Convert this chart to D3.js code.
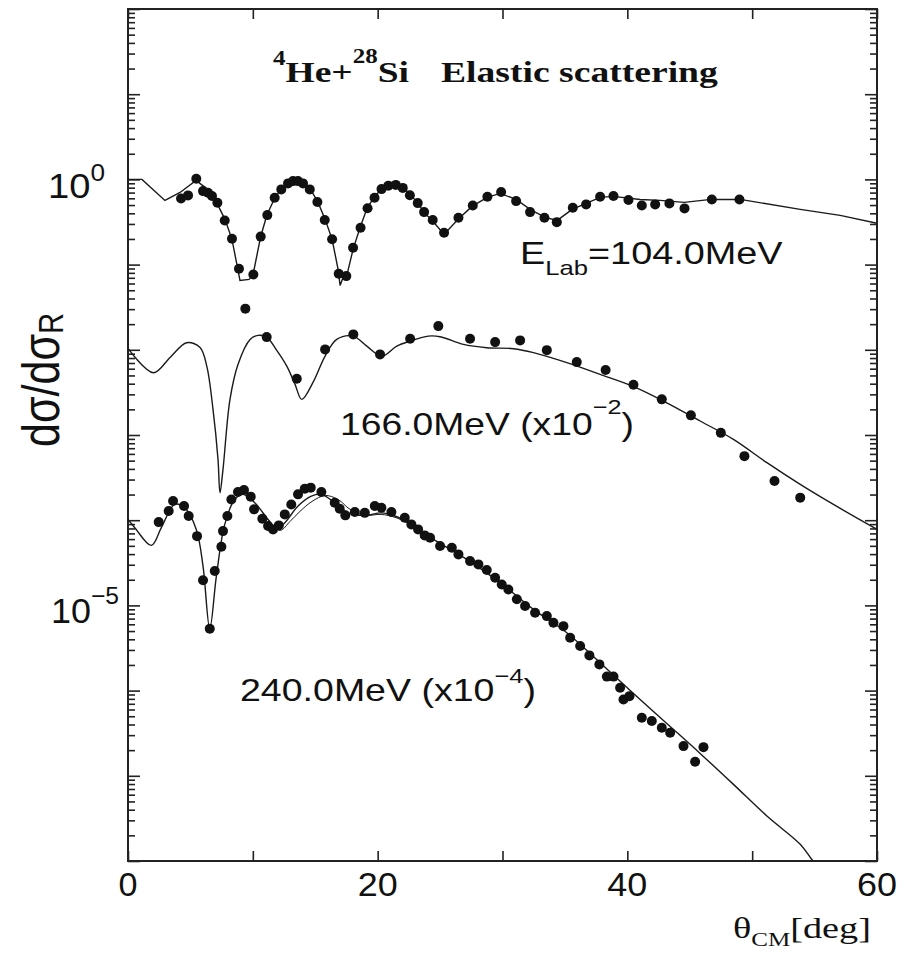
<!DOCTYPE html>
<html><head><meta charset="utf-8">
<script src="https://cdn.jsdelivr.net/npm/d3@7"></script>
<style>body{margin:0;background:#fff;} svg{display:block}</style>
</head><body>
<svg id="chart" width="911" height="959"></svg>
<script>
// ---------------- data (theta_CM [deg], dσ/dσR as plotted) ----------------
const exp104 = [[4.25,0.598],[4.81,0.649],[5.47,1.02],[6.01,0.729],[6.41,0.698],[6.73,0.637],[7.16,0.533],[7.75,0.330],[8.33,0.201],[8.89,0.0895],[9.40,0.0304],[10.04,0.0767],[10.63,0.213],[11.16,0.381],[11.75,0.610],[12.28,0.763],[12.82,0.898],[13.22,0.955],[13.62,0.955],[14.02,0.898],[14.56,0.763],[15.17,0.542],[15.76,0.333],[16.35,0.198],[16.88,0.0782],[17.49,0.0733],[18.03,0.158],[18.63,0.271],[19.19,0.459],[19.75,0.610],[20.31,0.769],[20.85,0.843],[21.45,0.862],[22.01,0.795],[22.58,0.653],[23.21,0.527],[23.72,0.413],[24.41,0.333],[25.32,0.237],[26.47,0.355],[27.62,0.495],[28.79,0.627],[29.89,0.710],[31.09,0.556],[32.21,0.413],[33.36,0.355],[34.35,0.315],[35.63,0.465],[36.70,0.509],[37.82,0.627],[38.89,0.637],[40.09,0.572],[41.16,0.495],[42.23,0.509],[43.37,0.523],[44.58,0.457],[46.77,0.582],[48.98,0.582]];

const fit104 = [[0,1.0],[1.12,1.0],[2.96,0.567],[4.17,0.703],[5.45,0.973],[6.17,0.806],[6.97,0.582],[7.77,0.340],[8.33,0.198],[8.97,0.0653],[9.70,0.0670],[10.02,0.0767],[10.63,0.214],[11.14,0.388],[11.78,0.615],[12.34,0.784],[12.98,0.922],[13.46,0.973],[13.94,0.947],[14.58,0.784],[15.22,0.537],[15.79,0.340],[16.35,0.198],[16.83,0.0878],[16.99,0.0570],[17.23,0.0707],[17.55,0.0767],[18.03,0.151],[18.59,0.273],[19.15,0.457],[19.71,0.615],[20.27,0.763],[20.83,0.851],[21.39,0.874],[21.96,0.828],[22.60,0.667],[23.24,0.523],[23.72,0.410],[24.44,0.321],[25.32,0.226],[26.44,0.340],[27.56,0.482],[28.77,0.615],[29.81,0.685],[31.09,0.582],[32.21,0.445],[33.41,0.358],[34.38,0.330],[35.58,0.445],[36.70,0.523],[37.82,0.615],[38.86,0.632],[41.03,0.582],[42.63,0.567],[44.55,0.537],[46.71,0.582],[49.04,0.582],[53.85,0.445],[57.05,0.378],[60.0,0.305]];

const exp166 = [[11.11,0.01409],[13.52,0.00458],[15.79,0.01011],[18.05,0.01517],[20.19,0.00883],[22.60,0.01349],[24.86,0.01897],[27.40,0.01349],[29.41,0.01231],[31.41,0.01289],[33.55,0.00991],[35.95,0.00717],[38.26,0.00578],[40.49,0.00389],[42.76,0.00262],[45.09,0.00170],[47.49,0.00106],[49.38,0.000565],[51.79,0.000288],[53.85,0.000184]];

const fit166 = [[0,0.01038],[2.03,0.00538],[3.37,0.00814],[4.70,0.01211],[5.77,0.01067],[6.31,0.00644],[6.81,0.00200],[7.21,0.000517],[7.37,0.000210],[7.61,0.000395],[8.17,0.00262],[8.81,0.00674],[9.78,0.01324],[10.42,0.01476],[11.11,0.01409],[11.86,0.01011],[12.72,0.00644],[13.38,0.00393],[13.92,0.00262],[14.82,0.00414],[15.79,0.00844],[16.72,0.01324],[18.03,0.01449],[19.13,0.01105],[20.33,0.00844],[21.53,0.01105],[22.60,0.01265],[24.06,0.01449],[25.00,0.01425],[26.87,0.01157],[28.74,0.01059],[30.87,0.01030],[32.48,0.00925],[35.15,0.00706],[37.82,0.00514],[40.46,0.00372],[43.16,0.00239],[45.83,0.00146],[48.50,0.000888],[51.18,0.000473],[53.85,0.000263],[56.51,0.000153],[60.0,0.0000780]];

const exp240 = [[2.46,9.50e-5],[3.26,1.28e-4],[3.61,1.68e-4],[4.49,1.47e-4],[4.86,1.12e-4],[5.53,6.50e-5],[6.01,1.97e-5],[6.55,5.33e-6],[6.95,2.53e-5],[7.48,4.89e-5],[7.61,7.45e-5],[7.96,1.12e-4],[8.28,1.75e-4],[8.81,2.14e-4],[9.29,2.26e-4],[9.83,1.89e-4],[10.10,1.34e-4],[10.76,1.04e-4],[11.22,8.53e-5],[11.62,7.80e-5],[12.08,8.69e-5],[12.56,1.17e-4],[13.08,1.53e-4],[13.62,2.01e-4],[14.16,2.34e-4],[14.64,2.41e-4],[15.49,2.14e-4],[16.56,1.60e-4],[16.96,1.36e-4],[17.41,1.14e-4],[18.17,1.25e-4],[18.97,1.22e-4],[19.77,1.47e-4],[20.30,1.40e-4],[21.10,1.25e-4],[22.17,1.07e-4],[22.70,8.93e-5],[23.24,7.80e-5],[23.77,6.63e-5],[24.20,6.23e-5],[25.00,4.97e-5],[25.94,4.75e-5],[26.47,3.97e-5],[27.40,3.31e-5],[28.07,3.03e-5],[28.74,2.60e-5],[29.41,2.11e-5],[29.94,1.76e-5],[30.47,1.54e-5],[31.15,1.18e-5],[31.81,9.82e-6],[32.61,8.21e-6],[33.55,7.49e-6],[34.08,6.26e-6],[34.88,5.71e-6],[35.42,4.18e-6],[36.22,3.33e-6],[36.96,2.59e-6],[37.76,2.03e-6],[38.36,1.46e-6],[38.89,1.46e-6],[39.42,1.08e-6],[39.69,7.88e-7],[40.17,8.61e-7],[41.16,4.81e-7],[41.96,4.39e-7],[42.76,3.67e-7],[43.43,3.21e-7],[44.50,2.23e-7],[45.43,1.46e-7],[46.10,2.17e-7]];

const fit240 = [[0,1.02e-4],[0.54,8.17e-5],[1.87,5.06e-5],[2.67,8.17e-5],[3.74,1.53e-4],[4.54,1.40e-4],[5.47,7.80e-5],[6.01,2.89e-5],[6.55,5.33e-6],[7.08,2.21e-5],[7.75,8.93e-5],[8.55,1.75e-4],[9.21,2.01e-4],[10.15,1.60e-4],[11.22,1.02e-4],[11.88,7.95e-5],[12.56,9.35e-5],[13.62,1.47e-4],[14.69,1.92e-4],[15.49,2.01e-4],[16.56,1.60e-4],[17.63,1.22e-4],[18.97,1.14e-4],[20.30,1.22e-4],[21.37,1.12e-4],[22.44,9.35e-5],[24.04,6.50e-5],[27.14,3.47e-5],[29.81,1.85e-5],[32.48,8.97e-6],[35.15,4.78e-6],[37.82,2.12e-6],[40.49,9.27e-7],[43.16,4.12e-7],[45.83,1.83e-7],[48.50,7.93e-8],[51.18,3.37e-8],[53.85,1.57e-8],[54.78,1.04e-8],[55.45,7.97e-9]];

const fit240b = [[11.22,1.02e-4],[12.18,7.59e-5],[12.98,9.68e-5],[13.78,1.27e-4],[14.74,1.66e-4],[15.79,1.95e-4],[16.83,1.75e-4],[17.79,1.34e-4],[18.97,1.14e-4],[20.27,1.17e-4],[21.39,1.08e-4],[22.44,9.17e-5],[24.04,6.50e-5]];

const xTickVals = [0,10,20,30,40,50,60];
const xTickLabels = ["0","20","40","60"];
const yLabelExps = ["0","−5"];

// ---------------- drawing ----------------
const svg = d3.select('#chart');
const SANS = 'Liberation Sans, Arial, Helvetica, sans-serif';
const SERIF = 'Liberation Serif, Times New Roman, serif';
const INK = '#111';

const x = d3.scaleLinear().domain([0,60]).range([128,877]);
const y = d3.scaleLog().domain([1e-8,1e2]).range([861,9]);

svg.append('defs').append('clipPath').attr('id','plotclip')
  .append('rect').attr('x',x(0)).attr('y',y(1e2)).attr('width',x(60)-x(0)).attr('height',y(1e-8)-y(1e2));

// ticks
const decades = d3.range(-8,3).map(k => Math.pow(10,k));
const minors = [];
d3.range(-8,2).forEach(k => { for (let m=2;m<=9;m++) minors.push(m*Math.pow(10,k)); });

function styleAxis(g){ g.select('.domain').remove(); g.selectAll('line').attr('stroke','#222').attr('stroke-width',1.6); g.selectAll('text').remove(); }

svg.append('g').attr('transform',`translate(${x(0)},0)`).call(d3.axisLeft(y).tickValues(decades).tickSize(-12).tickFormat('')).call(styleAxis);
svg.append('g').attr('transform',`translate(${x(0)},0)`).call(d3.axisLeft(y).tickValues(minors).tickSize(-7).tickFormat('')).call(styleAxis);
svg.append('g').attr('transform',`translate(${x(60)},0)`).call(d3.axisRight(y).tickValues(decades).tickSize(-12).tickFormat('')).call(styleAxis);
svg.append('g').attr('transform',`translate(${x(60)},0)`).call(d3.axisRight(y).tickValues(minors).tickSize(-7).tickFormat('')).call(styleAxis);
svg.append('g').attr('transform',`translate(0,${y(1e-8)})`).call(d3.axisBottom(x).tickValues(xTickVals).tickSize(-10).tickFormat('')).call(styleAxis);
svg.append('g').attr('transform',`translate(0,${y(1e2)})`).call(d3.axisTop(x).tickValues(xTickVals).tickSize(-10).tickFormat('')).call(styleAxis);

// frame
svg.append('rect').attr('x',x(0)).attr('y',y(1e2)).attr('width',x(60)-x(0)).attr('height',y(1e-8)-y(1e2))
  .attr('fill','none').attr('stroke','#222').attr('stroke-width',2);

// curves
const plot = svg.append('g').attr('clip-path','url(#plotclip)');
const lineLin = d3.line().x(d=>x(d[0])).y(d=>y(d[1]));
const lineSmooth = d3.line().x(d=>x(d[0])).y(d=>y(d[1])).curve(d3.curveCatmullRom.alpha(0.5));
plot.append('path').datum(fit104).attr('d',lineLin).attr('fill','none').attr('stroke','#1a1a1a').attr('stroke-width',1.4);
plot.append('path').datum(fit166).attr('d',lineSmooth).attr('fill','none').attr('stroke','#1a1a1a').attr('stroke-width',1.4);
plot.append('path').datum(fit240).attr('d',lineSmooth).attr('fill','none').attr('stroke','#1a1a1a').attr('stroke-width',1.4);
plot.append('path').datum(fit240b).attr('d',lineSmooth).attr('fill','none').attr('stroke','#1a1a1a').attr('stroke-width',1.0);

// points
[exp104, exp166, exp240].forEach(ds => {
  plot.append('g').selectAll('circle').data(ds).join('circle')
    .attr('cx',d=>x(d[0])).attr('cy',d=>y(d[1])).attr('r',5).attr('fill',INK);
});

// ---------------- text helper ----------------
function label(parts, o){
  const t = svg.append('text').attr('font-family',o.family).attr('font-size',o.size)
    .attr('font-weight',o.weight||'normal').attr('fill',INK);
  let cur = 0;
  parts.forEach(p => {
    const sh = p.shift || 0;
    const ts = t.append('tspan').text(p.t).attr('dy', sh - cur);
    cur = sh;
    if (p.size) ts.attr('font-size', p.size);
  });
  const bb = t.node().getBBox();
  const sx = o.width / bb.width;
  const left = (o.cx !== undefined) ? o.cx - o.width/2 : o.x;
  t.attr('transform',`translate(${left - bb.x*sx},${o.y}) scale(${sx},1)`);
  return t;
}

// y tick labels
label([{t:'10'},{t:yLabelExps[0],size:24,shift:-17}], {x:48, y:198, width:57, size:35, family:SANS});
label([{t:'10'},{t:yLabelExps[1],size:24,shift:-19}], {x:51, y:623, width:68, size:35, family:SANS});

// x tick labels
xTickLabels.forEach(s => {
  const v = +s;
  label([{t:s}], {cx:x(v), y:896, width: s.length===1 ? 19 : 40, size:33, family:SANS});
});

// title
label([{t:'4',size:20,shift:-17},{t:'He+'},{t:'28',size:20,shift:-19},{t:'Si'}], {x:273, y:82, width:136, size:30, weight:'bold', family:SERIF});
label([{t:'Elastic scattering'}], {x:441, y:82, width:277, size:30, weight:'bold', family:SERIF});

// series labels
label([{t:'E'},{t:'Lab',size:21,shift:11},{t:'=104.0MeV'}], {x:520, y:264, width:263, size:31, family:SANS});
label([{t:'166.0MeV (x10'},{t:'−2',size:21,shift:-21},{t:')'}], {x:340, y:435, width:294, size:31, family:SANS});
label([{t:'240.0MeV (x10'},{t:'−4',size:21,shift:-18},{t:')'}], {x:240, y:701, width:296, size:31, family:SANS});

// x axis title
label([{t:'θ'},{t:'CM',size:19,shift:8},{t:'[deg]'}], {x:733, y:938, width:138, size:29, family:SERIF});

// y axis title (rotated)
(function(){
  const t = svg.append('text').attr('font-family',SANS).attr('font-size',42).attr('fill',INK);
  t.append('tspan').text('dσ/dσ');
  t.append('tspan').text('R').attr('font-size',28).attr('dy',3);
  const bb = t.node().getBBox();
  const s = 134 / bb.width;
  t.attr('transform',`translate(59,447) rotate(-90) scale(${s},1.25) translate(${-bb.x},0)`);
})();
</script>
</body></html>
